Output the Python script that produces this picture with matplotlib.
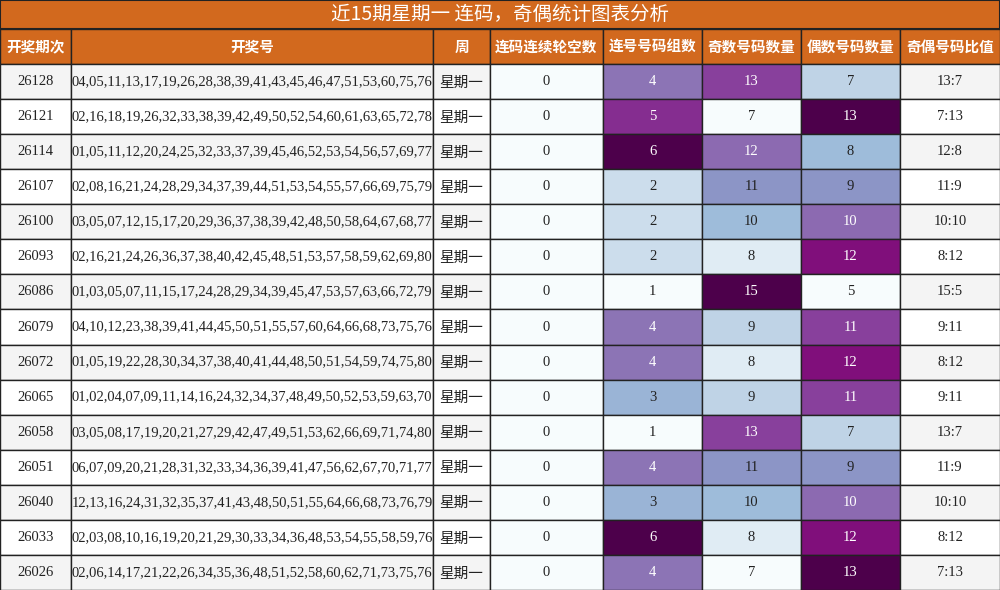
import matplotlib
matplotlib.use("Agg")
import matplotlib.pyplot as plt
from matplotlib.patches import Rectangle
from matplotlib import cm, colors

plt.rcParams['font.family'] = ['Noto Sans CJK SC', 'DejaVu Sans']

title = "近15期星期一 连码，奇偶统计图表分析"
headers = ["开奖期次", "开奖号", "周", "连码连续轮空数", "连号号码组数", "奇数号码数量", "偶数号码数量", "奇偶号码比值"]
issues = ["26128","26121","26114","26107","26100","26093","26086","26079","26072","26065","26058","26051","26040","26033","26026"]
numbers = [
"04,05,11,13,17,19,26,28,38,39,41,43,45,46,47,51,53,60,75,76",
"02,16,18,19,26,32,33,38,39,42,49,50,52,54,60,61,63,65,72,78",
"01,05,11,12,20,24,25,32,33,37,39,45,46,52,53,54,56,57,69,77",
"02,08,16,21,24,28,29,34,37,39,44,51,53,54,55,57,66,69,75,79",
"03,05,07,12,15,17,20,29,36,37,38,39,42,48,50,58,64,67,68,77",
"02,16,21,24,26,36,37,38,40,42,45,48,51,53,57,58,59,62,69,80",
"01,03,05,07,11,15,17,24,28,29,34,39,45,47,53,57,63,66,72,79",
"04,10,12,23,38,39,41,44,45,50,51,55,57,60,64,66,68,73,75,76",
"01,05,19,22,28,30,34,37,38,40,41,44,48,50,51,54,59,74,75,80",
"01,02,04,07,09,11,14,16,24,32,34,37,48,49,50,52,53,59,63,70",
"03,05,08,17,19,20,21,27,29,42,47,49,51,53,62,66,69,71,74,80",
"06,07,09,20,21,28,31,32,33,34,36,39,41,47,56,62,67,70,71,77",
"12,13,16,24,31,32,35,37,41,43,48,50,51,55,64,66,68,73,76,79",
"02,03,08,10,16,19,20,21,29,30,33,34,36,48,53,54,55,58,59,76",
"02,06,14,17,21,22,26,34,35,36,48,51,52,58,60,62,71,73,75,76",
]
weekday = ["星期一"] * 15
gap = [0] * 15
groups = [4,5,6,2,2,2,1,4,4,3,1,4,3,6,4]
odd = [13,7,12,11,10,8,15,9,8,9,13,11,10,8,7]
even = [7,13,8,9,10,12,5,11,12,11,7,9,10,12,13]
ratio = ["13:7","7:13","12:8","11:9","10:10","8:12","15:5","9:11","8:12","9:11","13:7","11:9","10:10","8:12","7:13"]

W, H = 1000, 590
fig = plt.figure(figsize=(W/100, H/100), dpi=100)
ax = fig.add_axes([0, 0, 1, 1])
ax.set_xlim(0, W); ax.set_ylim(H, 0); ax.axis('off')

xs = [0, 71, 433, 490, 603, 702, 801, 900, 1000]
orange = '#d2691e'
title_h, head_h = 29, 35
row_h = (H - title_h - head_h) / 15
cmap = plt.get_cmap('BuPu')
serif = ['Liberation Serif', 'Noto Sans CJK SC']

ax.add_patch(Rectangle((0, 0), W, title_h, fc=orange, ec='#222', lw=1.5))
ax.text(W/2, title_h/2, title, ha='center', va='center', color='white', fontsize=14)
for i, h in enumerate(headers):
    ax.add_patch(Rectangle((xs[i], title_h), xs[i+1]-xs[i], head_h, fc=orange, ec='#222', lw=1))
    ax.text((xs[i]+xs[i+1])/2, title_h+head_h/2, h, ha='center', va='center', color='white', fontsize=10.5, fontweight='bold')

def norm_col(vals):
    lo, hi = min(vals), max(vals)
    return [(v-lo)/(hi-lo) for v in vals]

ng, no, ne = norm_col(groups), norm_col(odd), norm_col(even)
for r in range(15):
    y = title_h + head_h + r*row_h
    base = '#f4f4f4' if r % 2 == 0 else 'white'
    cells = [issues[r], numbers[r], weekday[r], str(gap[r]), str(groups[r]), str(odd[r]), str(even[r]), ratio[r]]
    fills = [base, base, base, cmap(0.0), cmap(ng[r]), cmap(no[r]), cmap(ne[r]), base]
    tnorm = [None, None, None, 0, ng[r], no[r], ne[r], None]
    for c in range(8):
        ax.add_patch(Rectangle((xs[c], y), xs[c+1]-xs[c], row_h, fc=fills[c], ec='#222', lw=1))
        col = 'white' if (tnorm[c] is not None and tnorm[c] > 0.55) else '#222'
        if c == 2:
            ax.text((xs[c]+xs[c+1])/2, y+row_h/2+1, cells[c], ha='center', va='center', fontsize=10.5, color=col)
        else:
            ax.text((xs[c]+xs[c+1])/2, y+row_h/2, cells[c], ha='center', va='center', fontsize=10.5, color=col, family=serif)

fig.savefig('out.png', dpi=100)
